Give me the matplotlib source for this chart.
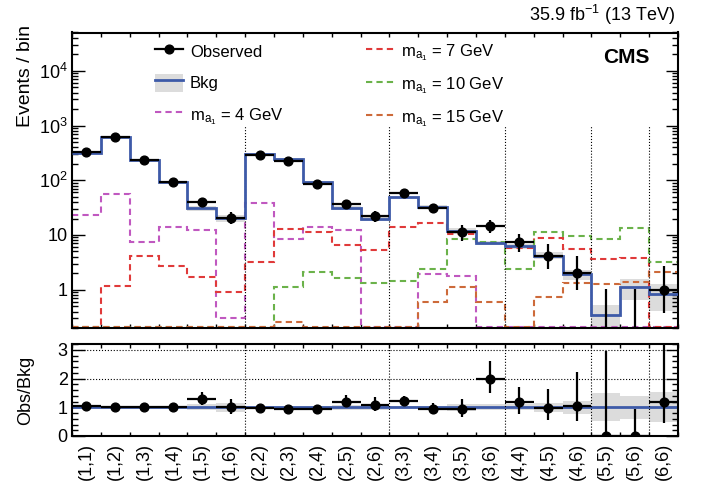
"""
Observed vs background per (i,j) category, with signal templates and Obs/Bkg ratio.
"""
import numpy as np
import matplotlib
matplotlib.use("Agg")
import matplotlib.pyplot as plt  # noqa: E402
from matplotlib.lines import Line2D  # noqa: E402
from matplotlib.patches import Patch, Rectangle  # noqa: E402
from matplotlib.legend_handler import HandlerPatch  # noqa: E402
from matplotlib.ticker import FixedLocator, FixedFormatter, LogLocator, MultipleLocator, NullFormatter  # noqa: E402

plt.rcParams["font.family"] = ["Liberation Sans", "DejaVu Sans"]
plt.rcParams["mathtext.fontset"] = "custom"
plt.rcParams["mathtext.rm"] = "Liberation Sans"
plt.rcParams["mathtext.it"] = "Liberation Sans"
plt.rcParams["mathtext.bf"] = "Liberation Sans:bold"
plt.rcParams["mathtext.default"] = "regular"

# --- data ---
categories = ["(1,1)", "(1,2)", "(1,3)", "(1,4)", "(1,5)", "(1,6)",
              "(2,2)", "(2,3)", "(2,4)", "(2,5)", "(2,6)",
              "(3,3)", "(3,4)", "(3,5)", "(3,6)",
              "(4,4)", "(4,5)", "(4,6)",
              "(5,5)", "(5,6)", "(6,6)"]
obs = [330, 620, 230, 92, 40, 20.5, 295, 228, 87, 37, 21.8, 59, 31, 11.3, 14.3, 7.3, 4.1, 2.0, 0, 0, 1.0]
obs_err_lo = [18, 25, 15, 9.6, 6.3, 4.8, 17, 15, 9.3, 6.2, 4.4, 7.5, 5.8, 3.4, 3.6, 2.5, 1.7, 1.0, 0, 0, 0.63]
obs_err_hi = [18, 25, 15, 10.4, 7.2, 5.6, 17.5, 16, 10.2, 6.8, 5.2, 8.4, 6.4, 4.2, 4.4, 3.3, 2.8, 2.2, 1.03, 1.05, 1.75]
bkg = [320, 620, 230, 92, 31, 20.5, 304, 245, 91.5, 31, 20, 48.5, 33, 12.0, 7.2, 6.2, 4.2, 1.9, 0.35, 1.1, 0.85]
bkg_rel_unc = [0.02, 0.02, 0.02, 0.02, 0.1, 0.15, 0.03, 0.04, 0.04, 0.08, 0.1, 0.04, 0.05,
               0.12, 0.1, 0.1, 0.15, 0.22, 0.49, 0.4, 0.52]
sig_4 = [23.5, 57, 7.4, 13.9, 12.1, 0.31, 38.5, 8.5, 14, 12.1, 0, 0, 1.94, 1.8, 0, 0, 0, 0, 0, 0, 0]
sig_7 = [0, 1.18, 4.2, 2.76, 1.69, 0.9, 3.18, 12.6, 11.3, 6.6, 5.35, 14, 16.5, 10.5, 7.1, 5.8, 8.9, 5.6, 3.66, 3.77, 0]
sig_10 = [0, 0, 0, 0, 0, 0, 0, 1.14, 2.14, 1.62, 1.33, 1.43, 2.4, 8.3, 7.3, 2.4, 11.3, 9.5, 8.5, 13.6, 3.27]
sig_15 = [0, 0, 0, 0, 0, 0, 0, 0.26, 0, 0, 0, 0, 0.6, 1.12, 0.59, 0, 0.74, 1.33, 1.27, 1.37, 2.14]
group_edges = [6, 11, 15, 18, 20]

YMIN, YMAX = 0.2, 5e4
C_BKG = "#3d5aa8"
C_BAND = "#dcdcdc"
SIGNALS = [(sig_4, "#c058c0", "4"), (sig_7, "#e03a3a", "7"), (sig_10, "#6bb24a", "10"), (sig_15, "#cd6a3a", "15")]
DASH = (0, (3, 2))


def style_axis(a):
    for s in a.spines.values():
        s.set_linewidth(1.5)
    a.tick_params(which="both", direction="in", top=True, right=True, width=1.0)
    a.tick_params(axis="x", which="major", length=3)
    a.set_xlim(0, len(categories))
    a.xaxis.set_major_locator(FixedLocator(np.arange(len(categories) + 1)))
    a.xaxis.set_major_formatter(NullFormatter())


def band_box(legend, orig_handle, xdescent, ydescent, width, height, fontsize):
    # grey box a bit shorter than the (tall) handle slot
    return Rectangle((-xdescent, -ydescent + 0.09 * height), width, 0.82 * height)


def main():
    n = len(categories)
    edges = np.arange(n + 1)
    centers = edges[:-1] + 0.5
    obs_a = np.array(obs, float)
    bkg_a = np.array(bkg, float)
    rel = np.array(bkg_rel_unc)

    fig = plt.figure(figsize=(7.02, 4.92), dpi=100)
    ax = fig.add_axes([72 / 702, 1 - 328 / 492, 606 / 702, 295.5 / 492])
    axr = fig.add_axes([72 / 702, 1 - 436 / 492, 606 / 702, 92 / 492])

    # --- top panel ---
    lo = np.append(bkg_a * (1 - rel), bkg_a[-1] * (1 - rel[-1]))
    hi = np.append(bkg_a * (1 + rel), bkg_a[-1] * (1 + rel[-1]))
    ax.fill_between(edges, lo, hi, step="post", color=C_BAND, lw=0, zorder=1)
    for vals, col, _ in SIGNALS:
        # empty bins sit on the lower frame, as in the original
        ax.stairs(np.maximum(vals, YMIN * 1.03), edges, baseline=None, color=col, ls=DASH, lw=1.5, zorder=2)
    ax.stairs(bkg_a, edges, baseline=None, color=C_BKG, lw=2, zorder=3)
    ax.vlines(group_edges, YMIN, 1000, colors="k", linestyles=":", lw=0.8, zorder=2)
    ax.errorbar(centers, obs_a, xerr=0.5, yerr=[obs_err_lo, obs_err_hi], fmt="o", color="k",
                ms=6.3, lw=1.6, capsize=0, zorder=5)

    ax.set_yscale("log")
    ax.set_ylim(YMIN, YMAX)
    style_axis(ax)
    ax.yaxis.set_major_locator(FixedLocator([1, 10, 100, 1000, 1e4]))
    ax.yaxis.set_major_formatter(FixedFormatter(["1", "10", "$10^{2}$", "$10^{3}$", "$10^{4}$"]))
    ax.yaxis.set_minor_locator(LogLocator(base=10, subs=np.arange(2, 10), numticks=20))
    ax.yaxis.set_minor_formatter(NullFormatter())
    ax.tick_params(axis="y", which="major", length=9, labelsize=13, pad=3)
    ax.tick_params(axis="y", which="minor", length=4.5)
    ax.set_ylabel("Events / bin", fontsize=14, loc="top")
    ax.yaxis.set_label_coords(-0.063, 1.025)

    # legend, two columns
    h_obs = Line2D([], [], color="k", marker="o", ms=6.3, lw=1.6)
    h_bkg = (Patch(color=C_BAND, lw=0), Line2D([], [], color=C_BKG, lw=2))
    h_sig = [Line2D([], [], color=c, ls=DASH, lw=1.5) for _, c, _ in SIGNALS]
    lab_sig = [r"$m_{a_{1}}$ = %s GeV" % m for _, _, m in SIGNALS]
    common = dict(frameon=False, fontsize=12, loc="upper left", borderpad=0, borderaxespad=0,
                  handlelength=1.7, handleheight=1.6, labelspacing=0.62, handletextpad=0.4,
                  handler_map={Patch: HandlerPatch(patch_func=band_box)})
    leg1 = ax.legend([h_obs, h_bkg, h_sig[0]], ["Observed", "Bkg", lab_sig[0]],
                     bbox_to_anchor=(0.137, 0.973), **common)
    ax.add_artist(leg1)
    ax.legend(h_sig[1:], lab_sig[1:], bbox_to_anchor=(0.485, 0.973), **common)

    ax.text(0.954, 0.897, "CMS", transform=ax.transAxes, ha="right", va="baseline",
            fontsize=15, fontweight="bold")
    fig.text(675 / 702, 1 - 21 / 492, r"35.9 fb$^{-1}$ (13 TeV)", ha="right", va="baseline", fontsize=13)

    # --- ratio panel ---
    ratio = obs_a / bkg_a
    r_lo = np.array(obs_err_lo) / bkg_a
    r_hi = np.array(obs_err_hi) / bkg_a
    axr.fill_between(edges, np.append(1 - rel, 1 - rel[-1]), np.append(1 + rel, 1 + rel[-1]),
                     step="post", color=C_BAND, lw=0, zorder=1)
    axr.axhline(1, color=C_BKG, lw=2, zorder=2)
    axr.hlines([2, 3], 0, n, colors="k", linestyles=":", lw=0.8, zorder=2)
    axr.vlines(group_edges, 0, 3.2, colors="k", linestyles=":", lw=0.8, zorder=2)
    axr.errorbar(centers, ratio, xerr=0.5, yerr=[r_lo, r_hi], fmt="o", color="k",
                 ms=6.3, lw=1.6, capsize=0, zorder=5)
    axr.set_ylim(0, 3.2)
    style_axis(axr)
    axr.yaxis.set_major_locator(FixedLocator([0, 1, 2, 3]))
    axr.yaxis.set_minor_locator(MultipleLocator(0.2))
    axr.tick_params(axis="y", which="major", length=9, labelsize=13, pad=3)
    axr.tick_params(axis="y", which="minor", length=4.5)
    axr.xaxis.set_minor_locator(FixedLocator(centers))
    axr.xaxis.set_minor_formatter(FixedFormatter(categories))
    axr.tick_params(axis="x", which="minor", length=0, labelsize=13, labelrotation=90, pad=5)
    axr.set_ylabel("Obs/Bkg", fontsize=13)
    axr.yaxis.set_label_coords(-0.063, 0.5)

    fig.savefig("out.png", dpi=100)


if __name__ == "__main__":
    main()
